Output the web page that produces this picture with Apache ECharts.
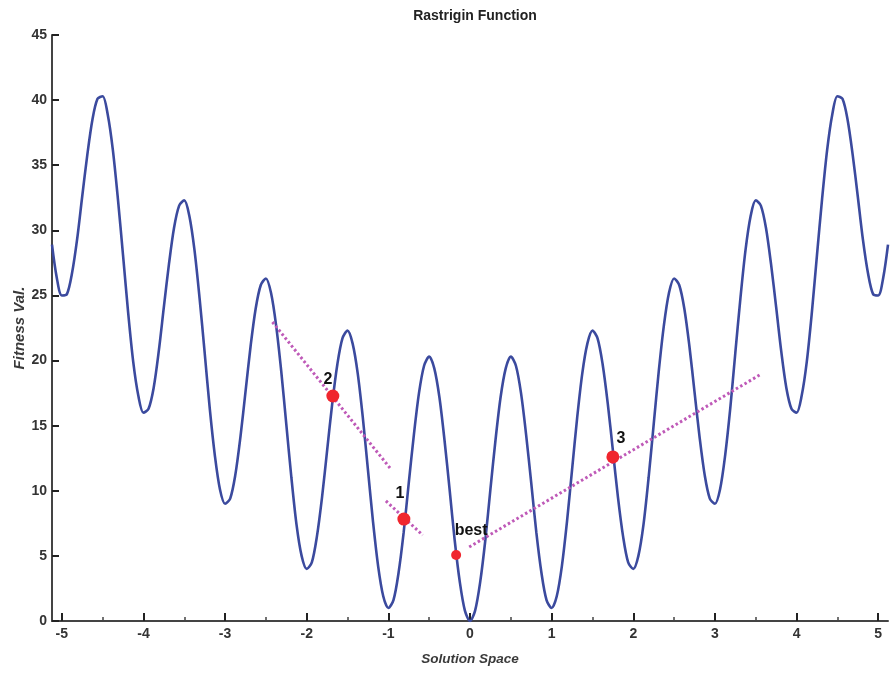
<!DOCTYPE html>
<html>
<head>
<meta charset="utf-8">
<script src="https://cdn.jsdelivr.net/npm/echarts@6/dist/echarts.min.js"></script>
<style>html,body{margin:0;padding:0;background:#fff}#c{width:891px;height:673px}</style>
</head>
<body>
<div id="c"></div>
<script>
// Curve samples
const solutionX = [
-5.12,-5.0625,-5,
-4.9375,-4.875,-4.8125,-4.75,-4.6875,-4.625,-4.5625,-4.5,-4.4375,-4.375,-4.3125,-4.25,-4.1875,-4.125,-4.0625,-4,
-3.9375,-3.875,-3.8125,-3.75,-3.6875,-3.625,-3.5625,-3.5,-3.4375,-3.375,-3.3125,-3.25,-3.1875,-3.125,-3.0625,-3,
-2.9375,-2.875,-2.8125,-2.75,-2.6875,-2.625,-2.5625,-2.5,-2.4375,-2.375,-2.3125,-2.25,-2.1875,-2.125,-2.0625,-2,
-1.9375,-1.875,-1.8125,-1.75,-1.6875,-1.625,-1.5625,-1.5,-1.4375,-1.375,-1.3125,-1.25,-1.1875,-1.125,-1.0625,-1,
-0.9375,-0.875,-0.8125,-0.75,-0.6875,-0.625,-0.5625,-0.5,-0.4375,-0.375,-0.3125,-0.25,-0.1875,-0.125,-0.0625,
0,
0.0625,0.125,0.1875,0.25,0.3125,0.375,0.4375,0.5,0.5625,0.625,0.6875,0.75,0.8125,0.875,0.9375,1,
1.0625,1.125,1.1875,1.25,1.3125,1.375,1.4375,1.5,1.5625,1.625,1.6875,1.75,1.8125,1.875,1.9375,2,
2.0625,2.125,2.1875,2.25,2.3125,2.375,2.4375,2.5,2.5625,2.625,2.6875,2.75,2.8125,2.875,2.9375,3,
3.0625,3.125,3.1875,3.25,3.3125,3.375,3.4375,3.5,3.5625,3.625,3.6875,3.75,3.8125,3.875,3.9375,4,
4.0625,4.125,4.1875,4.25,4.3125,4.375,4.4375,4.5,4.5625,4.625,4.6875,4.75,4.8125,4.875,4.9375,5,
5.0625,5.12];
const fitness = [
28.9,26.4,25.0,
25.1,26.7,29.3,32.6,35.8,38.5,40.1,40.3,38.9,36.2,32.4,28.1,23.7,19.9,17.3,16.0,
16.3,17.9,20.7,24.1,27.4,30.2,31.9,32.3,31.1,28.5,24.8,20.6,16.3,12.7,10.1,9.0,
9.4,11.2,14.1,17.6,21.1,24.0,25.8,26.3,25.2,22.7,19.2,15.1,11.0,7.4,5.0,4.0,
4.5,6.5,9.5,13.1,16.7,19.7,21.7,22.3,21.3,19.0,15.6,11.6,7.6,4.2,1.9,1.0,
1.6,3.7,6.8,10.6,14.3,17.5,19.6,20.3,19.4,17.2,13.9,10.1,6.2,3.0,0.8,
0,
0.8,3.0,6.2,10.1,13.9,17.2,19.4,20.3,19.6,17.5,14.3,10.6,6.8,3.7,1.6,1.0,
1.9,4.2,7.6,11.6,15.6,19.0,21.3,22.3,21.7,19.7,16.7,13.1,9.5,6.5,4.5,4.0,
5.0,7.4,11.0,15.1,19.2,22.7,25.2,26.3,25.8,24.0,21.1,17.6,14.1,11.2,9.4,9.0,
10.1,12.7,16.3,20.6,24.8,28.5,31.1,32.3,31.9,30.2,27.4,24.1,20.7,17.9,16.3,16.0,
17.3,19.9,23.7,28.1,32.4,36.2,38.9,40.3,40.1,38.5,35.8,32.6,29.3,26.7,25.1,25.0,
26.4,28.9];

// Marked particles
const particleNames = ['2','1','best','3'];
const particleX = [-1.68,-0.81,-0.17,1.75];
const particleY = [17.28,7.83,5.07,12.6];
const particleSize = [13,13,10,13];
const labelOffsets = [[-5,3],[-4,-6],[15,-6],[8,1]];

// Dotted direction segments [x0,y0,x1,y1]
const seg2 = [-2.42,22.96,-0.98,11.75];
const seg1 = [-1.03,9.22,-0.58,6.6];
const seg3 = [-0.01,5.68,3.55,18.9];

const xMajorTicks = [-5,-4,-3,-2,-1,0,1,2,3,4,5];
const xMinorTicks = [-4.5,-3.5,-2.5,-1.5,-0.5,0.5,1.5,2.5,3.5,4.5];

const FONT = 'Liberation Sans, Arial, sans-serif';
const curve = solutionX.map((x,i)=>[x,fitness[i]]);
const particles = particleNames.map((n,i)=>({
  value:[particleX[i],particleY[i]],
  symbolSize: particleSize[i],
  label:{show:true,formatter:n,position:'top',offset:labelOffsets[i],
    fontWeight:'bold',fontSize:16,color:'#111',fontFamily:FONT}
}));
function segData(s){return [[s[0],s[1]],[s[2],s[3]]];}
const dotStyle = {color:'#bf5ab8',width:3,type:[2.5,2.5]};

const chart = echarts.init(document.getElementById('c'));
chart.setOption({
  animation:false,
  title:{text:'Rastrigin Function',left:470,top:4,textAlign:'center',
    textStyle:{fontSize:14,fontWeight:'bold',color:'#222',fontFamily:FONT}},
  grid:{left:52,right:3,top:35,bottom:52,containLabel:false,outerBoundsMode:'none'},
  xAxis:[{
    type:'value',min:-5.12,max:5.12,
    name:'Solution Space',nameLocation:'middle',nameGap:31,nameMoveOverlap:false,
    nameTextStyle:{fontStyle:'italic',fontWeight:'bold',fontSize:13.5,color:'#3a3a3a',fontFamily:FONT},
    axisLine:{onZero:false,lineStyle:{color:'#444',width:2}},
    axisTick:{show:true,inside:true,length:8,lineStyle:{color:'#222',width:2},customValues:xMajorTicks},
    axisLabel:{customValues:xMajorTicks,margin:6,fontSize:14,fontWeight:'bold',color:'#333',fontFamily:FONT},
    splitLine:{show:false}
  },{
    type:'value',min:-5.12,max:5.12,position:'bottom',
    axisLine:{show:false,onZero:false},
    axisTick:{show:true,inside:true,length:4,lineStyle:{color:'#444',width:1.5},customValues:xMinorTicks},
    axisLabel:{show:false},splitLine:{show:false}
  }],
  yAxis:{
    type:'value',min:0,max:45,interval:5,
    name:'Fitness Val.',nameLocation:'middle',nameGap:25,nameRotate:90,nameMoveOverlap:false,
    nameTextStyle:{fontStyle:'italic',fontWeight:'bold',fontSize:15,color:'#3a3a3a',fontFamily:FONT},
    axisLine:{show:true,onZero:false,lineStyle:{color:'#444',width:2}},
    axisTick:{show:true,inside:true,length:7,lineStyle:{color:'#222',width:2}},
    axisLabel:{margin:5,fontSize:14,fontWeight:'bold',color:'#333',fontFamily:FONT},
    splitLine:{show:false}
  },
  series:[
    {type:'line',data:curve,smooth:0.3,showSymbol:false,symbol:'none',
      lineStyle:{color:'#3b4a9e',width:2.6},z:2},
    {type:'line',data:segData(seg2),showSymbol:false,symbol:'none',lineStyle:dotStyle,z:3},
    {type:'line',data:segData(seg1),showSymbol:false,symbol:'none',lineStyle:dotStyle,z:3},
    {type:'line',data:segData(seg3),showSymbol:false,symbol:'none',lineStyle:dotStyle,z:3},
    {type:'scatter',data:particles,itemStyle:{color:'#f0262e',opacity:1},z:5}
  ]
});
</script>
</body>
</html>
